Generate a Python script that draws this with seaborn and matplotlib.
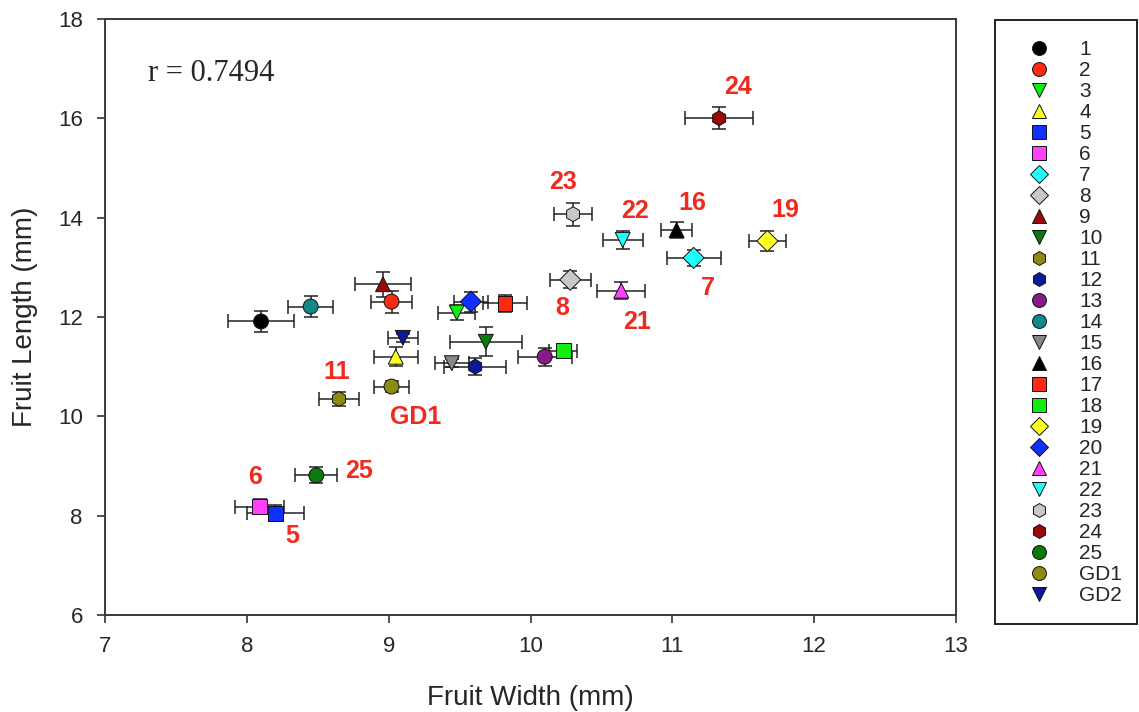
import matplotlib
matplotlib.use("Agg")
import matplotlib.pyplot as plt
from matplotlib.lines import Line2D
from matplotlib.patches import Rectangle
import pandas as pd
import seaborn as sns

# accessions and their means / standard errors
accessions = ["1", "2", "3", "4", "5", "6", "7", "8", "9", "10", "11", "12", "13",
              "14", "15", "16", "17", "18", "19", "20", "21", "22", "23", "24", "25",
              "GD1", "GD2"]
width = [8.10, 9.02, 9.48, 9.05, 8.20, 8.09, 11.15, 10.28, 8.96, 9.685, 8.65, 9.61, 10.10,
         8.45, 9.445, 11.03, 9.82, 10.23, 11.67, 9.58, 10.64, 10.65, 10.30, 11.33, 8.49,
         9.02, 9.10]
length = [11.91, 12.31, 12.09, 11.20, 8.05, 8.18, 13.19, 12.75, 12.66, 11.50, 10.35, 11.00, 11.20,
          12.21, 11.07, 13.75, 12.28, 11.32, 13.53, 12.31, 12.53, 13.55, 14.07, 16.00, 8.81,
          10.60, 11.58]
width_se = [0.23, 0.145, 0.13, 0.155, 0.20, 0.17, 0.19, 0.145, 0.20, 0.255, 0.14, 0.22, 0.19,
            0.16, 0.12, 0.11, 0.155, 0.10, 0.13, 0.12, 0.17, 0.14, 0.135, 0.24, 0.147,
            0.12, 0.105]
length_se = [0.22, 0.22, 0.15, 0.19, 0.16, 0.15, 0.16, 0.17, 0.25, 0.29, 0.14, 0.17, 0.18,
             0.22, 0.08, 0.16, 0.17, 0.12, 0.21, 0.2, 0.17, 0.18, 0.23, 0.22, 0.16,
             0.12, 0.08]

colors = ["#000000", "#ff2a10", "#10ee10", "#ffff20", "#1030ff", "#ff40ff", "#20ffff", "#c8c8c8",
          "#9a0a0a", "#0a7a0a", "#8c8c10", "#0a1a9a", "#8a1a8a", "#108888", "#888888", "#000000",
          "#ff2a10", "#10ee10", "#ffff20", "#1030ff", "#ff40ff", "#20ffff", "#c8c8c8", "#9a0a0a",
          "#0a7a0a", "#8c8c10", "#0a1a9a"]
markers = ["o", "o", "v", "^", "s", "s", "D", "D", "^", "v", "h", "h", "o",
           "o", "v", "^", "s", "s", "D", "D", "^", "v", "h", "h", "o",
           "o", "v"]

# red annotations
note_text = ["24", "23", "22", "16", "19", "7", "8", "21", "11", "GD1", "6", "25", "5"]
note_x = [11.46, 10.23, 10.74, 11.14, 11.80, 11.25, 10.22, 10.75, 8.63, 9.19, 8.06, 8.79, 8.32]
note_y = [16.63, 14.71, 14.13, 14.30, 14.15, 12.58, 12.19, 11.89, 10.90, 9.99, 8.78, 8.90, 7.60]

df = pd.DataFrame({"acc": accessions, "w": width, "l": length,
                   "wse": width_se, "lse": length_se})
palette = dict(zip(accessions, colors))
marker_map = dict(zip(accessions, markers))

sns.set_style("ticks")
plt.rcParams["font.family"] = ["Liberation Sans", "DejaVu Sans"]

fig = plt.figure(figsize=(11.39, 7.12), dpi=100)
ax = fig.add_axes([105 / 1139, 1 - 615 / 712, 851 / 1139, 596 / 712])

# error bars
ax.errorbar(df["w"], df["l"], xerr=df["wse"], yerr=df["lse"], fmt="none",
            ecolor="#222222", elinewidth=1.1, capsize=5, capthick=1.1, zorder=2)

# points
sns.scatterplot(data=df, x="w", y="l", hue="acc", style="acc", hue_order=accessions,
                palette=palette, markers=marker_map, s=115, edgecolor="#111111",
                linewidth=0.7, legend=False, zorder=3, ax=ax)

for t, x, y in zip(note_text, note_x, note_y):
    ax.text(x, y, t, color="#f02a1e", fontsize=18, fontweight="bold", ha="center", va="center")

ax.text(7.30, 16.91, "r = 0.7494", fontsize=22, family="Liberation Serif",
        ha="left", va="center")

ax.set_xlim(7, 13)
ax.set_ylim(6, 18)
ax.set_xticks(range(7, 14))
ax.set_yticks(range(6, 19, 2))
ax.set_xlabel("Fruit Width (mm)", fontsize=20, labelpad=20)
ax.set_ylabel("Fruit Length (mm)", fontsize=20, labelpad=14)
ax.tick_params(axis="both", direction="out", length=6, width=1.2, color="#333333",
               labelsize=16)
ax.tick_params(axis="x", pad=9)
ax.tick_params(axis="y", pad=10)
for s in ax.spines.values():
    s.set_linewidth(1.4)
    s.set_color("#3a3a3a")

# legend in a box to the right
handles = [Line2D([], [], linestyle="none", marker=m, markersize=10 if m not in "D" else 9,
                  markerfacecolor=c, markeredgecolor="#111111", markeredgewidth=0.7)
           for m, c in zip(markers, colors)]
fig.legend(handles, accessions, loc="upper left",
           bbox_to_anchor=(1028.6 / 1139, 1 - 40 / 712), frameon=False, fontsize=15,
           handlelength=1.0, handletextpad=1.42, labelspacing=0.096, borderpad=0,
           borderaxespad=0)
fig.patches.append(Rectangle((995 / 1139, 1 - 624 / 712), 142 / 1139, 604 / 712,
                             transform=fig.transFigure, fill=False,
                             edgecolor="#222222", linewidth=1.4))

fig.savefig("out.png", dpi=100)
